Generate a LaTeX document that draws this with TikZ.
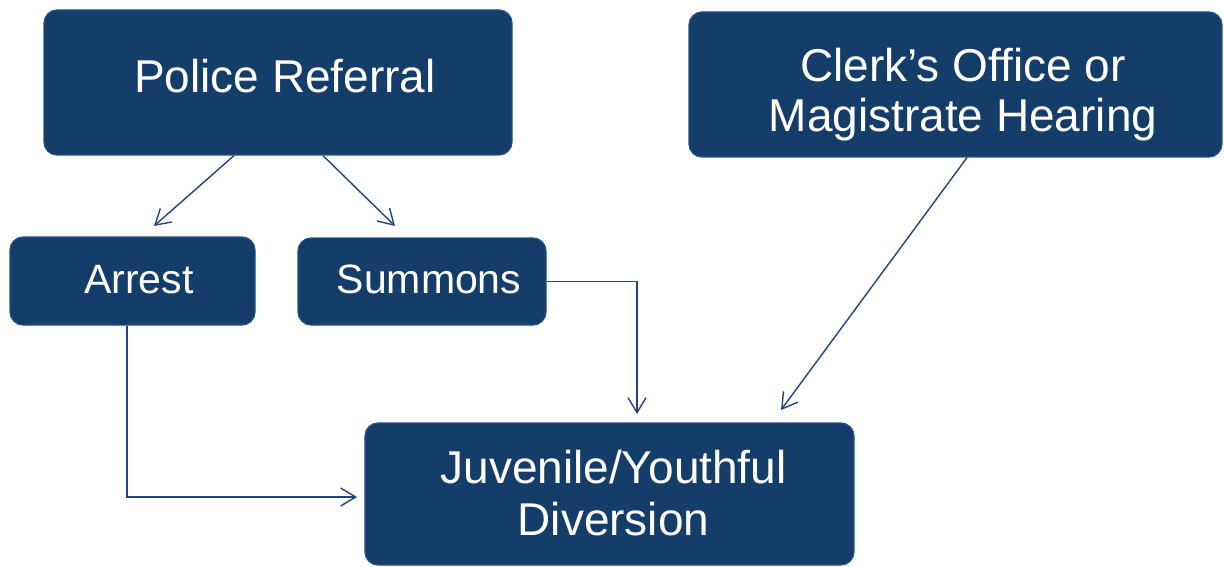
\documentclass[tikz,border=0pt]{standalone}
\usepackage{fontspec}
\setmainfont{Liberation Sans}
\usetikzlibrary{arrows.meta}
\definecolor{boxfill}{RGB}{20,61,106}
\definecolor{boxline}{RGB}{32,82,132}
\definecolor{arrowcol}{RGB}{36,68,128}
\begin{document}
\begin{tikzpicture}[x=1pt,y=-1pt,
  box/.style={draw=boxline, line width=1.2pt, fill=boxfill, rounded corners=13pt, inner sep=0pt},
  bigtxt/.style={text=white, font=\fontsize{46}{50}\selectfont, anchor=base, inner sep=0pt},
  smalltxt/.style={text=white, font=\fontsize{41}{46}\selectfont, anchor=base, inner sep=0pt},
  conn/.style={draw=arrowcol, line width=1.4pt, -{Straight Barb[length=15pt,width=18pt,line width=1.4pt]}}]
\useasboundingbox[fill=white] (0,0) rectangle (1224,567);

% boxes
\node[box, minimum width=468pt, minimum height=145pt] (pr) at (278,82.5) {};
\node[box, minimum width=533pt, minimum height=145pt] (clerk) at (955.5,84.5) {};
\node[box, minimum width=245pt, minimum height=88pt] (arrest) at (132.5,281) {};
\node[box, minimum width=248pt, minimum height=87pt] (summons) at (422,281.5) {};
\node[box, minimum width=489pt, minimum height=142pt] (juv) at (609.5,494) {};

% texts
\node[bigtxt] (prt) at (285,93) {Police Referral};
\node[bigtxt] (clt1) at (963,82) {Clerk’s Office or};
\node[bigtxt] (clt2) at (963,132) {Magistrate Hearing};
\node[smalltxt] (art) at (139,293) {Arrest};
\node[smalltxt] (sut) at (429,293) {Summons};
\node[bigtxt] (jut1) at (613.5,483) {Juvenile/Youthful};
\node[bigtxt] (jut2) at (613.5,535) {Diversion};

% connector ends
\coordinate (arrTip) at (154,226);
\coordinate (sumTip) at (395,226);
\coordinate (juvTopA) at (637,414);
\coordinate (juvLeft) at (357,497);
\coordinate (juvTopB) at (781,410);

% connectors
\draw[conn] ([xshift=-44pt]pr.south) -- (arrTip);
\draw[conn] ([xshift=45pt]pr.south) -- (sumTip);
\draw[conn] (summons.east) -| (juvTopA);
\draw[conn] ([xshift=-5.5pt]arrest.south) |- (juvLeft);
\draw[conn] ([xshift=11.5pt]clerk.south) -- (juvTopB);
\end{tikzpicture}
\end{document}
